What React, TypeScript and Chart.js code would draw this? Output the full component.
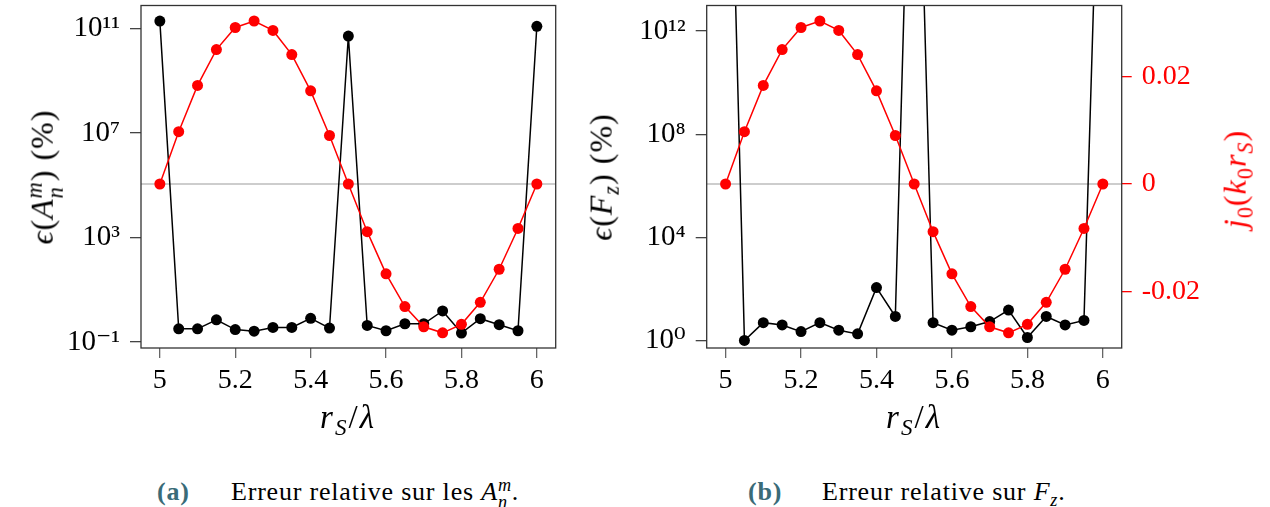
import React, { useEffect, useRef } from "react";
import { Chart, registerables } from "chart.js";
Chart.register(...registerables);

// ---------- data ----------
const rS = [5.0, 5.05, 5.1, 5.15, 5.2, 5.25, 5.3, 5.35, 5.4, 5.45, 5.5, 5.55, 5.6, 5.65, 5.7, 5.75, 5.8, 5.85, 5.9, 5.95, 6.0];
const errAnm = [1.9e11, 0.32, 0.32, 0.71, 0.3, 0.26, 0.36, 0.36, 0.81, 0.34, 5.1e10, 0.43, 0.27, 0.5, 0.5, 1.55, 0.22, 0.78, 0.46, 0.27, 1.2e11];
const errFz = [1e28, 1.0, 4.9, 4.0, 2.2, 4.9, 2.5, 1.8, 112, 8.5, 1e27, 4.9, 2.5, 3.4, 5.4, 15, 1.3, 8.5, 4.0, 6.0, 1e25];
const j0 = [0, 0.009739, 0.018343, 0.025002, 0.029108, 0.030315, 0.028559, 0.024067, 0.017324, 0.009024, 0, -0.008862, -0.016705, -0.022789, -0.026555, -0.027679, -0.026098, -0.02201, -0.015856, -0.008266, 0];
const zeroLineX = [4.95, 6.05];
const zeroLineY = [0, 0];

const xTicks = [5, 5.2, 5.4, 5.6, 5.8, 6];
const xTickLabels = ["5", "5.2", "5.4", "5.6", "5.8", "6"];
const yTicksA = [1e-1, 1e3, 1e7, 1e11];
const yTickLabelsA = ["10⁻¹", "10³", "10⁷", "10¹¹"];
const yTicksF = [1, 1e4, 1e8, 1e12];
const yTickLabelsF = ["10⁰", "10⁴", "10⁸", "10¹²"];
const j0Ticks = [-0.02, 0, 0.02];
const j0TickLabels = ["-0.02", "0", "0.02"];

const FONT = "'Liberation Serif', 'DejaVu Serif', serif";
const RED = "#ff0000";
const TEAL = "#3a6b78";

const framePlugin = {
  id: "frame",
  afterDraw(chart: any) {
    const { ctx, chartArea: a } = chart;
    ctx.save();
    ctx.strokeStyle = "#333";
    ctx.lineWidth = 1.3;
    ctx.strokeRect(a.left, a.top, a.right - a.left, a.bottom - a.top);
    ctx.restore();
  },
};

type PanelOpts = {
  err: number[];
  yTicks: number[];
  yLabels: string[];
  yMin: number;
  yMax: number;
  leftWidth: number;
  rightWidth: number;
  showRight: boolean;
};

const noPadV = (s: any, w: number) => {
  s.width = w;
  s.paddingTop = 0;
  s.paddingBottom = 0;
};

function makeConfig(o: PanelOpts): any {
  const pts = (ys: number[]) => rS.map((x, i) => ({ x, y: ys[i] }));
  return {
    type: "line",
    data: {
      datasets: [
        {
          data: zeroLineX.map((x, i) => ({ x, y: zeroLineY[i] })),
          yAxisID: "y1",
          borderColor: "#bdbdbd",
          borderWidth: 1.5,
          pointRadius: 0,
          order: 3,
        },
        {
          data: pts(o.err),
          yAxisID: "y",
          borderColor: "#000",
          backgroundColor: "#000",
          borderWidth: 1.5,
          pointRadius: 5.5,
          pointBorderWidth: 0,
          pointBackgroundColor: "#000",
          order: 2,
        },
        {
          data: pts(j0),
          yAxisID: "y1",
          borderColor: RED,
          backgroundColor: RED,
          borderWidth: 1.5,
          pointRadius: 5.5,
          pointBorderWidth: 0,
          pointBackgroundColor: RED,
          order: 1,
        },
      ],
    },
    options: {
      animation: false,
      responsive: false,
      events: [],
      layout: { padding: { top: 4, right: 0, left: 0, bottom: 0 } },
      plugins: { legend: { display: false }, tooltip: { enabled: false } },
      scales: {
        x: {
          type: "linear",
          min: 4.95,
          max: 6.05,
          afterBuildTicks: (s: any) => {
            s.ticks = xTicks.map((v) => ({ value: v }));
          },
          afterFit: (s: any) => {
            s.height = 440 - 348;
            s.paddingLeft = 0;
            s.paddingRight = 0;
          },
          border: { display: false },
          grid: { drawOnChartArea: false, drawTicks: true, tickLength: 10, color: "#666", lineWidth: 1.3 },
          ticks: {
            autoSkip: false,
            maxRotation: 0,
            padding: 6,
            color: "#000",
            font: { family: FONT, size: 28 },
            callback: (_v: any, i: number) => xTickLabels[i],
          },
        },
        y: {
          type: "logarithmic",
          position: "left",
          min: o.yMin,
          max: o.yMax,
          afterBuildTicks: (s: any) => {
            s.ticks = o.yTicks.map((v) => ({ value: v }));
          },
          afterFit: (s: any) => noPadV(s, o.leftWidth),
          border: { display: false },
          grid: { drawOnChartArea: false, drawTicks: true, tickLength: 11, color: "#444", lineWidth: 1.3 },
          ticks: {
            autoSkip: false,
            padding: 10,
            color: "#000",
            font: { family: FONT, size: 29 },
            callback: (_v: any, i: number) => o.yLabels[i],
          },
        },
        y1: {
          type: "linear",
          position: "right",
          display: o.showRight,
          min: -0.0305,
          max: 0.0332,
          afterBuildTicks: (s: any) => {
            s.ticks = j0Ticks.map((v) => ({ value: v }));
          },
          afterFit: (s: any) => noPadV(s, o.rightWidth),
          border: { display: false },
          grid: { drawOnChartArea: false, drawTicks: true, tickLength: 10, color: RED, lineWidth: 1.3 },
          ticks: {
            autoSkip: false,
            padding: 10,
            color: RED,
            font: { family: FONT, size: 28 },
            callback: (_v: any, i: number) => j0TickLabels[i],
          },
        },
      },
    },
    plugins: [framePlugin],
  };
}

function Panel({ left, width, opts }: { left: number; width: number; opts: PanelOpts }) {
  const ref = useRef<HTMLCanvasElement | null>(null);
  useEffect(() => {
    if (!ref.current) return;
    const chart = new Chart(ref.current, makeConfig(opts));
    return () => chart.destroy();
  }, []);
  return (
    <canvas
      ref={ref}
      width={width}
      height={440}
      style={{ position: "absolute", left, top: 0, width, height: 440 }}
    />
  );
}

const txt: React.CSSProperties = { position: "absolute", fontFamily: FONT, whiteSpace: "nowrap", lineHeight: 1 };

function Rot({ cx, cy, color, children }: { cx: number; cy: number; color?: string; children: React.ReactNode }) {
  return (
    <div
      style={{
        ...txt,
        left: cx,
        top: cy,
        fontSize: 32,
        letterSpacing: 1,
        color: color || "#000",
        transform: "translate(-50%, -50%) rotate(-90deg)",
      }}
    >
      {children}
    </div>
  );
}

function SubSup({ sup, sub }: { sup: string; sub: string }) {
  return (
    <span style={{ display: "inline-block", verticalAlign: "-0.45em", fontSize: "0.7em", lineHeight: 0.95, textAlign: "left" }}>
      <span style={{ display: "block" }}><i>{sup}</i></span>
      <span style={{ display: "block" }}><i>{sub}</i></span>
    </span>
  );
}

const subS: React.CSSProperties = { fontSize: "0.7em" };

function XTitle({ cx }: { cx: number }) {
  return (
    <div style={{ ...txt, left: cx, top: 420, fontSize: 33, letterSpacing: 2, transform: "translate(-50%, -50%)" }}>
      <i>r</i>
      <sub style={subS}><i>S</i></sub>
      /<i>λ</i>
    </div>
  );
}

const cap: React.CSSProperties = { ...txt, top: 477, fontSize: 26, lineHeight: "30px", letterSpacing: 0.8 };

export default function App() {
  return (
    <div style={{ position: "absolute", left: 0, top: 0, width: 1270, height: 507, background: "#fff", overflow: "hidden" }}>
      <Panel
        left={0}
        width={600}
        opts={{
          err: errAnm,
          yTicks: yTicksA,
          yLabels: yTickLabelsA,
          yMin: Math.pow(10, -1.229),
          yMax: Math.pow(10, 11.876),
          leftWidth: 141,
          rightWidth: 44.3,
          showRight: false,
        }}
      />
      <Panel
        left={600}
        width={670}
        opts={{
          err: errFz,
          yTicks: yTicksF,
          yLabels: yTickLabelsF,
          yMin: Math.pow(10, -0.293),
          yMax: Math.pow(10, 12.99),
          leftWidth: 106.7,
          rightWidth: 148.3,
          showRight: true,
        }}
      />
      <Rot cx={45} cy={177}>
        <i>ϵ</i>(<i>A</i>
        <SubSup sup="m" sub="n" />) (%)
      </Rot>
      <Rot cx={604} cy={177}>
        <i>ϵ</i>(<i>F</i>
        <sub style={subS}><i>z</i></sub>) (%)
      </Rot>
      <Rot cx={1238} cy={179} color={RED}>
        <i>j</i>
        <sub style={subS}>0</sub>(<i>k</i>
        <sub style={subS}>0</sub>
        <i>r</i>
        <sub style={subS}><i>S</i></sub>)
      </Rot>
      <XTitle cx={348} />
      <XTitle cx={914} />
      <div style={{ ...cap, left: 157 }}>
        <b style={{ color: TEAL }}>(a)</b>
      </div>
      <div style={{ ...cap, left: 231 }}>
        Erreur relative sur les <i>A</i>
        <SubSup sup="m" sub="n" />.
      </div>
      <div style={{ ...cap, left: 748 }}>
        <b style={{ color: TEAL }}>(b)</b>
      </div>
      <div style={{ ...cap, left: 822 }}>
        Erreur relative sur <i>F</i>
        <sub style={subS}><i>z</i></sub>.
      </div>
    </div>
  );
}
